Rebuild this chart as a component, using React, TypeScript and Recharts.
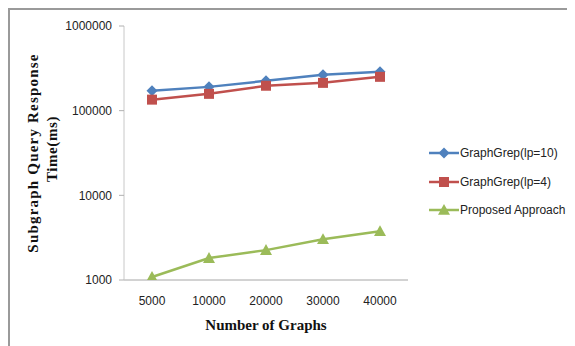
import React from "react";
import { LineChart, Line, XAxis, YAxis, Label } from "recharts";

const categories = ["5000", "10000", "20000", "30000", "40000"];
const graphGrepLp10 = [172000, 191000, 225000, 265000, 288000];
const graphGrepLp4 = [135000, 158000, 197000, 213000, 251000];
const proposedApproach = [1085, 1815, 2254, 3037, 3770];
const yTicks = [1000, 10000, 100000, 1000000];

const seriesNames = ["GraphGrep(lp=10)", "GraphGrep(lp=4)", "Proposed Approach"];
const colors = ["#4F81BD", "#C0504D", "#9BBB59"];

const data = categories.map((c, i) => ({
  cat: c,
  a: graphGrepLp10[i],
  b: graphGrepLp4[i],
  c: proposedApproach[i],
}));

const Diamond = (props: any) => {
  const { cx, cy, fill } = props;
  if (cx == null || cy == null) return null;
  const r = 5.5;
  return <path d={`M${cx},${cy - r}L${cx + r},${cy}L${cx},${cy + r}L${cx - r},${cy}Z`} fill={fill} />;
};
const Square = (props: any) => {
  const { cx, cy, fill } = props;
  if (cx == null || cy == null) return null;
  const r = 5;
  return <rect x={cx - r} y={cy - r} width={2 * r} height={2 * r} fill={fill} />;
};
const Triangle = (props: any) => {
  const { cx, cy, fill } = props;
  if (cx == null || cy == null) return null;
  const r = 6;
  return <path d={`M${cx},${cy - r}L${cx + r},${cy + r * 0.8}L${cx - r},${cy + r * 0.8}Z`} fill={fill} />;
};
const markers = [Diamond, Square, Triangle];

const LegendBox = () => (
  <div
    style={{
      position: "absolute",
      left: 421,
      top: 131,
      width: 146,
      fontFamily: "'Liberation Sans', Arial, sans-serif",
      fontSize: 12,
      color: "#222",
    }}
  >
    {seriesNames.map((n, i) => {
      const M = markers[i];
      return (
        <div key={n} style={{ display: "flex", alignItems: "center", height: 28.5 }}>
          <svg width={30} height={14} style={{ marginRight: 1 }}>
            <line x1={0} y1={7} x2={30} y2={7} stroke={colors[i]} strokeWidth={2.5} />
            <M cx={15} cy={7} fill={colors[i]} />
          </svg>
          <span>{n}</span>
        </div>
      );
    })}
  </div>
);

export default function App() {
  const titleFont = "'Liberation Serif', 'Times New Roman', serif";
  return (
    <div style={{ width: 567, height: 338, overflow: "hidden", position: "relative" }}>
      <div
        style={{
          position: "absolute",
          left: 0,
          top: 0,
          width: 620,
          height: 400,
          border: "2px solid #9a9a9a",
          boxSizing: "border-box",
        }}
      />
      <div style={{ position: "absolute", left: 0, top: 0 }}>
        <LineChart width={567} height={338} data={data} margin={{ top: 18, right: 167, bottom: 36, left: 56 }}>
          <XAxis
            dataKey="cat"
            height={30}
            padding={{ left: 28, right: 28 }}
            tickLine={false}
            tickSize={0}
            tickMargin={16}
            axisLine={{ stroke: "#a6a6a6", strokeWidth: 1 }}
            tick={{ fill: "#222", fontSize: 12, fontFamily: "'Liberation Sans', Arial, sans-serif" }}
          >
            <Label
              content={() => (
                <text x={258} y={322} textAnchor="middle" fontFamily={titleFont} fontWeight="bold" fontSize={15} fill="#111">
                  Number of Graphs
                </text>
              )}
            />
          </XAxis>
          <YAxis
            width={60}
            scale="log"
            domain={[1000, 1000000]}
            ticks={yTicks}
            allowDataOverflow
            tickSize={5}
            tickMargin={7}
            axisLine={{ stroke: "#c8c8c8", strokeWidth: 1 }}
            tickLine={{ stroke: "#b0b0b0" }}
            tick={{ fill: "#222", fontSize: 12, fontFamily: "'Liberation Sans', Arial, sans-serif" }}
          >
            <Label
              content={() => (
                <g fontFamily={titleFont} fontWeight="bold" fontSize={15} fill="#111">
                  <text x={30} y={145} textAnchor="middle" letterSpacing={1.2} transform="rotate(-90 30 145)">
                    Subgraph Query Response
                  </text>
                  <text x={49} y={141} textAnchor="middle" letterSpacing={0.6} transform="rotate(-90 49 141)">
                    Time(ms)
                  </text>
                </g>
              )}
            />
          </YAxis>
          <Line dataKey="a" name={seriesNames[0]} stroke={colors[0]} strokeWidth={2.5} dot={<Diamond fill={colors[0]} />} isAnimationActive={false} />
          <Line dataKey="b" name={seriesNames[1]} stroke={colors[1]} strokeWidth={2.5} dot={<Square fill={colors[1]} />} isAnimationActive={false} />
          <Line dataKey="c" name={seriesNames[2]} stroke={colors[2]} strokeWidth={2.5} dot={<Triangle fill={colors[2]} />} isAnimationActive={false} />
        </LineChart>
      </div>
      <LegendBox />
    </div>
  );
}
